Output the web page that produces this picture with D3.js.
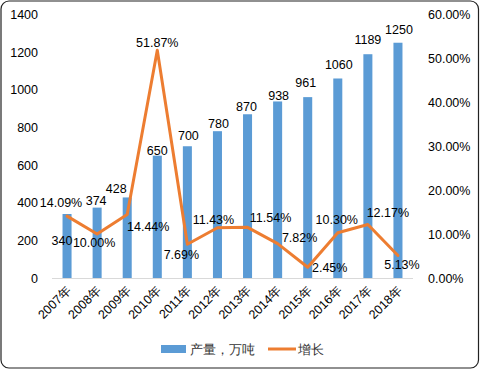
<!DOCTYPE html>
<html>
<head>
<meta charset="utf-8">
<script src="https://cdn.jsdelivr.net/npm/d3@7"></script>
<style>
  body { margin: 0; background: #fff; }
  svg text { font-family: "Liberation Sans", Arial, sans-serif; }
</style>
</head>
<body>
<svg id="chart" width="480" height="370"></svg>
<script>
// chart values
const years = ["2007年", "2008年", "2009年", "2010年", "2011年", "2012年",
               "2013年", "2014年", "2015年", "2016年", "2017年", "2018年"];
const output = [340, 374, 428, 650, 700, 780, 870, 938, 961, 1060, 1189, 1250];
const growth = [0.1409, 0.1000, 0.1444, 0.5187, 0.0769, 0.1143,
                0.1154, 0.0782, 0.0245, 0.1030, 0.1217, 0.0513];
const leftTicks = [0, 200, 400, 600, 800, 1000, 1200, 1400];
const rightTicks = [0, 0.1, 0.2, 0.3, 0.4, 0.5, 0.6];
const seriesNames = ["产量，万吨", "增长"];

// label nudges (dx, dy of label centre from the mark), as Excel placed them
const barLabelShift = [[-5, 27], [-1, -7], [-11, -8], [0, -5], [1, -10], [1, -7],
                       [-1, -7], [1, -5], [-2, -14], [1, -13], [0, -14], [1, -13]];
const lineLabelShift = [[-6, -13], [-3, 9], [21, 12], [0, -7], [-6, 11], [-4, -8],
                        [23, -9], [22, -6], [22, 1], [-1, -13], [20, -12], [4, 10]];

const blue = "#5B9BD5", orange = "#ED7D31";
const svg = d3.select("#chart");

// outer frame
svg.append("rect").attr("x", 1).attr("y", 1).attr("width", 477.5).attr("height", 367)
    .attr("rx", 8).attr("fill", "#fff").attr("stroke", "#222").attr("stroke-width", 1.2);

const x = d3.scaleBand().domain(years).range([52, 413])
    .paddingInner(0.7).paddingOuter(0.35);
const yL = d3.scaleLinear().domain([0, 1400]).range([278, 14.5]);
const yR = d3.scaleLinear().domain([0, 0.6]).range([278, 14.5]);
const cx = d => x(d) + x.bandwidth() / 2;

// left axis
const axL = svg.append("g").attr("transform", "translate(52,0)")
    .call(d3.axisLeft(yL).tickValues(leftTicks).tickFormat(d3.format("d"))
        .tickSize(0).tickPadding(14));
axL.select(".domain").remove();
axL.selectAll("text").attr("font-size", 12.5).attr("fill", "#000")
    .attr("font-family", "Liberation Sans, Arial, sans-serif");

// right axis
const axR = svg.append("g").attr("transform", "translate(413,0)")
    .call(d3.axisRight(yR).tickValues(rightTicks).tickFormat(d3.format(".2%"))
        .tickSize(0).tickPadding(15));
axR.select(".domain").remove();
axR.selectAll("text").attr("font-size", 12.5).attr("fill", "#000")
    .attr("font-family", "Liberation Sans, Arial, sans-serif");

// bars
svg.append("g").selectAll("rect").data(output).join("rect")
    .attr("x", (d, i) => x(years[i]))
    .attr("y", d => yL(d))
    .attr("width", x.bandwidth())
    .attr("height", d => yL(0) - yL(d))
    .attr("fill", blue);

// baseline
svg.append("line").attr("x1", 52).attr("x2", 413).attr("y1", 278.5).attr("y2", 278.5)
    .attr("stroke", "#d9d9d9").attr("stroke-width", 1);

// x labels
const axB = svg.append("g").attr("transform", "translate(0,278)")
    .call(d3.axisBottom(x).tickSize(0).tickPadding(0));
axB.select(".domain").remove();
axB.selectAll("text")
    .attr("font-size", 12.5).attr("fill", "#000")
    .attr("font-family", "Liberation Sans, Arial, sans-serif")
    .attr("text-anchor", "end")
    .attr("dy", null).attr("y", 0)
    .attr("transform", "translate(5,13) rotate(-45)");

// growth line
const line = d3.line().x((d, i) => cx(years[i])).y(d => yR(d));
svg.append("path").datum(growth).attr("d", line)
    .attr("fill", "none").attr("stroke", orange).attr("stroke-width", 3)
    .attr("stroke-linejoin", "round").attr("stroke-linecap", "round");

// bar value labels
svg.append("g").selectAll("text").data(output).join("text")
    .attr("x", (d, i) => cx(years[i]) + barLabelShift[i][0])
    .attr("y", (d, i) => yL(d) + barLabelShift[i][1])
    .attr("text-anchor", "middle").attr("dominant-baseline", "central")
    .attr("font-size", 12.5).attr("fill", "#000")
    .text(d => d);

// growth labels
svg.append("g").selectAll("text").data(growth).join("text")
    .attr("x", (d, i) => cx(years[i]) + lineLabelShift[i][0])
    .attr("y", (d, i) => yR(d) + lineLabelShift[i][1])
    .attr("text-anchor", "middle").attr("dominant-baseline", "central")
    .attr("font-size", 12.5).attr("fill", "#000")
    .text(d => d3.format(".2%")(d));

// legend
const lg = svg.append("g");
lg.append("rect").attr("x", 161).attr("y", 345).attr("width", 25).attr("height", 8).attr("fill", blue);
lg.append("text").attr("x", 190).attr("y", 349).attr("dominant-baseline", "central")
    .attr("font-size", 13).attr("fill", "#333").text(seriesNames[0]);
lg.append("line").attr("x1", 268).attr("x2", 296).attr("y1", 349).attr("y2", 349)
    .attr("stroke", orange).attr("stroke-width", 3);
lg.append("text").attr("x", 298).attr("y", 349).attr("dominant-baseline", "central")
    .attr("font-size", 13).attr("fill", "#333").text(seriesNames[1]);
</script>
</body>
</html>
